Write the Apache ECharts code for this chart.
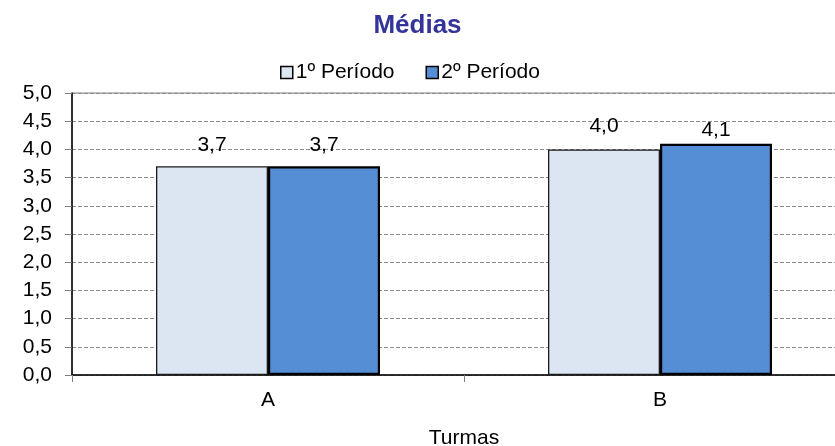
<!DOCTYPE html>
<html>
<head>
<meta charset="utf-8">
<script src="https://cdn.jsdelivr.net/npm/echarts@6/dist/echarts.min.js"></script>
<style>html,body{margin:0;padding:0;background:#fff}#chart{width:835px;height:446px}</style>
</head>
<body>
<div id="chart"></div>
<script>
// ==================== DATA ====================
const turmas=['A','B'];
const periodo1=[3.7,4.0];
const periodo2=[3.7,4.1];
const seriesNames=['1º Período','2º Período'];

const font='"Liberation Sans", Arial, sans-serif';
const fmt=v=>v.toFixed(1).replace('.',',');
// label offsets as placed in the original sheet
const labelDist1=[11,13];
const labelDist2=[11,3];

const withDist=(vals,dists)=>vals.map((v,i)=>({value:v,label:{distance:dists[i]}}));

const chart=echarts.init(document.getElementById('chart'));
chart.setOption({
  backgroundColor:'#fff',
  animation:false,
  textStyle:{fontFamily:font},
  title:{text:'Médias',left:'center',top:8,textStyle:{color:'#333399',fontSize:26,fontWeight:'bold',fontFamily:font}},
  legend:{data:seriesNames,top:62,left:280,padding:0,icon:'rect',itemWidth:12,itemHeight:12,itemGap:31,
    itemStyle:{borderColor:'#000',borderWidth:1.5},
    textStyle:{color:'#000',fontSize:21,fontFamily:font,padding:[0,0,0,-2]}},
  grid:{left:72,top:93,width:784,height:282,outerBoundsMode:'none',containLabel:false,
    show:true,borderColor:'#808080',borderWidth:1},
  xAxis:{type:'category',data:turmas,
    name:'Turmas',nameLocation:'middle',nameGap:53,nameTextStyle:{color:'#000',fontSize:21,fontFamily:font},
    axisLine:{lineStyle:{color:'#000',width:1.5}},
    axisTick:{show:true,length:7,lineStyle:{color:'#808080'}},
    axisLabel:{color:'#000',fontSize:21,margin:15,fontFamily:font}},
  yAxis:{type:'value',min:0,max:5,interval:0.5,
    axisLine:{show:true,lineStyle:{color:'#000',width:1.5}},
    axisTick:{show:true,length:7,lineStyle:{color:'#808080'}},
    axisLabel:{color:'#000',fontSize:21,margin:20,formatter:fmt,fontFamily:font},
    splitLine:{lineStyle:{color:'#8c8c8c',type:'dashed',width:1}}},
  series:[
    {name:seriesNames[0],type:'bar',data:withDist(periodo1,labelDist1),barWidth:112,barGap:'0%',
      itemStyle:{color:'#DCE6F2',borderColor:'#1a1a1a',borderWidth:1.3},
      label:{show:true,position:'top',color:'#000',fontSize:21,fontFamily:font,formatter:p=>fmt(p.value)}},
    {name:seriesNames[1],type:'bar',data:withDist(periodo2,labelDist2),barWidth:112,barGap:'0%',
      itemStyle:{color:'#558ED5',borderColor:'#000',borderWidth:2.2},
      label:{show:true,position:'top',color:'#000',fontSize:21,fontFamily:font,formatter:p=>fmt(p.value)}}
  ]
});
</script>
</body>
</html>
